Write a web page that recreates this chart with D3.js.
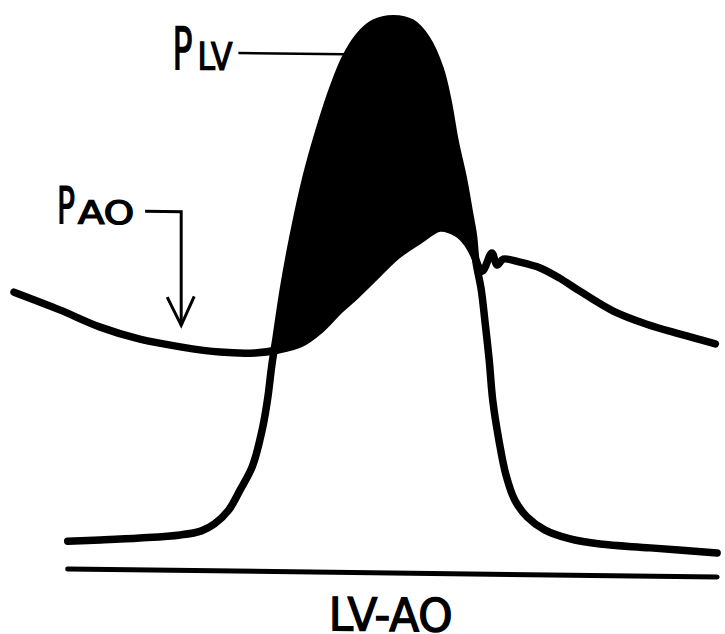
<!DOCTYPE html>
<html>
<head>
<meta charset="utf-8">
<script src="https://cdn.jsdelivr.net/npm/d3@7"></script>
<style>
  html, body { margin: 0; background: #fff; }
  svg { display: block; }
</style>
</head>
<body>
<svg id="chart" width="725" height="634"></svg>
<script>
// aortic pressure trace (time in ms, pressure in mmHg)
const aoTime = [0, 52, 98, 143, 189, 234, 274, 300, 325, 348, 370, 388, 410, 435, 461, 484, 503, 515, 522, 532, 543, 549, 556, 575, 598, 620, 643, 681, 719, 757, 797];
const aoPressure = [69.3, 65.0, 60.8, 57.9, 56.1, 54.9, 54.8, 55.6, 57.2, 60.8, 65.8, 69.4, 74.2, 79.6, 83.6, 86.7, 85.5, 83.0, 80.3, 76.0, 80.6, 77.6, 79.1, 78.4, 77.0, 74.5, 71.3, 66.4, 63.2, 60.8, 58.5];

// left ventricular pressure trace
const lvTime = [61, 98, 143, 189, 213, 228, 244, 257, 271, 282, 288, 293, 298, 306, 317, 332, 348, 363, 377, 392, 409, 431, 452, 469, 484, 493, 501, 511, 517, 522, 525, 531, 535, 540, 544, 551, 559, 569, 583, 603, 632, 666, 723, 799];
const lvPressure = [7.0, 7.4, 8.0, 8.9, 10.0, 11.8, 15.3, 20.4, 26.4, 35.5, 43.0, 51.8, 58.9, 70.7, 84.0, 99.1, 111.7, 121.8, 129.3, 134.6, 137.9, 139.1, 138.1, 134.1, 126.8, 118.8, 108.8, 98.8, 91.3, 85.0, 78.3, 71.3, 63.8, 53.7, 43.7, 33.7, 25.0, 18.7, 14.5, 11.3, 9.1, 7.9, 7.1, 6.0];

// zero reference line extent
const zeroLine = [61, 799];

const labels = ['P', 'LV', 'AO', 'LV-AO'];

const W = 725, H = 634;
const svg = d3.select('#chart');
const x = d3.scaleLinear().domain([0, 800]).range([14, 718]);
const y = d3.scaleLinear().domain([0, 140]).range([573, 15]);

const ao = aoTime.map((t, i) => ({ t, p: aoPressure[i] }));
const lv = lvTime.map((t, i) => ({ t, p: lvPressure[i] }));
const curve = d3.curveCatmullRom.alpha(0.5);
const line = d3.line().x(d => x(d.t)).y(d => y(d.p)).curve(curve);

// the scanned figure sits slightly tilted
const g = svg.append('g').attr('transform', 'translate(390,0) skewY(0.7) translate(-390,0)');

// black fill where LV pressure exceeds aortic pressure:
// area under the LV trace minus the area under the aortic trace
const mask = svg.append('defs').append('mask').attr('id', 'gradMask').attr('maskUnits', 'userSpaceOnUse')
  .attr('x', -50).attr('y', -50).attr('width', W + 100).attr('height', H + 100);
mask.append('path').attr('fill', '#fff')
  .attr('d', d3.area().x(d => x(d.t)).y0(y(20)).y1(d => y(d.p)).curve(curve)(lv.filter(d => d.t > 250 && d.t < 580)));
mask.append('path').attr('fill', '#000').attr('stroke', '#000').attr('stroke-width', 2)
  .attr('d', d3.area().x(d => x(d.t)).y0(y(-30)).y1(d => y(d.p)).curve(curve)(ao));
g.append('rect').attr('x', x(240)).attr('y', 0).attr('width', x(600) - x(240)).attr('height', y(30))
  .attr('fill', '#000').attr('mask', 'url(#gradMask)');

g.append('path').attr('d', line(ao)).attr('fill', 'none').attr('stroke', '#000')
  .attr('stroke-width', 7.5).attr('stroke-linecap', 'round').attr('stroke-linejoin', 'round');
g.append('path').attr('d', line(lv)).attr('fill', 'none').attr('stroke', '#000')
  .attr('stroke-width', 7.5).attr('stroke-linecap', 'round').attr('stroke-linejoin', 'round');
g.append('line').attr('x1', x(zeroLine[0])).attr('x2', x(zeroLine[1])).attr('y1', y(0)).attr('y2', y(0))
  .attr('stroke', '#000').attr('stroke-width', 5).attr('stroke-linecap', 'round');

const font = '"DejaVu Sans Condensed", "DejaVu Sans", sans-serif';
const ink = sel => sel.attr('font-family', font).attr('fill', '#000').attr('stroke', '#000').attr('stroke-width', 1.3);

// P_LV label with leader to the LV curve
const lvLead = { t0: 255, t1: 376, p: 130 };
g.append('line').attr('x1', x(lvLead.t0)).attr('x2', x(lvLead.t1)).attr('y1', y(lvLead.p)).attr('y2', y(lvLead.p))
  .attr('stroke', '#000').attr('stroke-width', 2.5);
const lvX = x(lvLead.t0), lvY = y(lvLead.p) + 17;
const tLV = g.append('text').call(ink).attr('y', lvY);
tLV.append('tspan').attr('x', lvX - 66).attr('font-size', 59).attr('textLength', 20).attr('lengthAdjust', 'spacingAndGlyphs').text(labels[0]);
tLV.append('tspan').attr('x', lvX - 41).attr('font-size', 38).attr('textLength', 35).attr('lengthAdjust', 'spacingAndGlyphs').text(labels[1]);

// P_AO label with elbow arrow down to the aortic curve
const aoLead = { t0: 149, t1: 190, p: 90, tip: 61.5 };
const ax = x(aoLead.t1), tipY = y(aoLead.tip);
g.append('path').attr('fill', 'none').attr('stroke', '#000').attr('stroke-width', 3)
  .attr('d', `M${x(aoLead.t0)},${y(aoLead.p)}H${ax}V${tipY}`);
g.append('path').attr('fill', 'none').attr('stroke', '#000').attr('stroke-width', 3).attr('stroke-linejoin', 'miter')
  .attr('d', `M${ax - 14},${tipY - 28}L${ax},${tipY}L${ax + 13},${tipY - 29}`);
const aoX = x(aoLead.t0), aoY = y(aoLead.p) + 13;
const tAO = g.append('text').call(ink).attr('y', aoY);
tAO.append('tspan').attr('x', aoX - 88).attr('font-size', 51).attr('textLength', 18).attr('lengthAdjust', 'spacingAndGlyphs').text(labels[0]);
tAO.append('tspan').attr('x', aoX - 67).attr('font-size', 32).attr('textLength', 56).attr('lengthAdjust', 'spacingAndGlyphs').text(labels[2]);

// gradient caption, close to the bottom edge as in the original
g.append('text').call(ink).attr('font-size', 46)
  .attr('text-anchor', 'middle').attr('x', x(428)).attr('y', 631)
  .attr('textLength', 124).attr('lengthAdjust', 'spacingAndGlyphs').text(labels[3]);
</script>
</body>
</html>
